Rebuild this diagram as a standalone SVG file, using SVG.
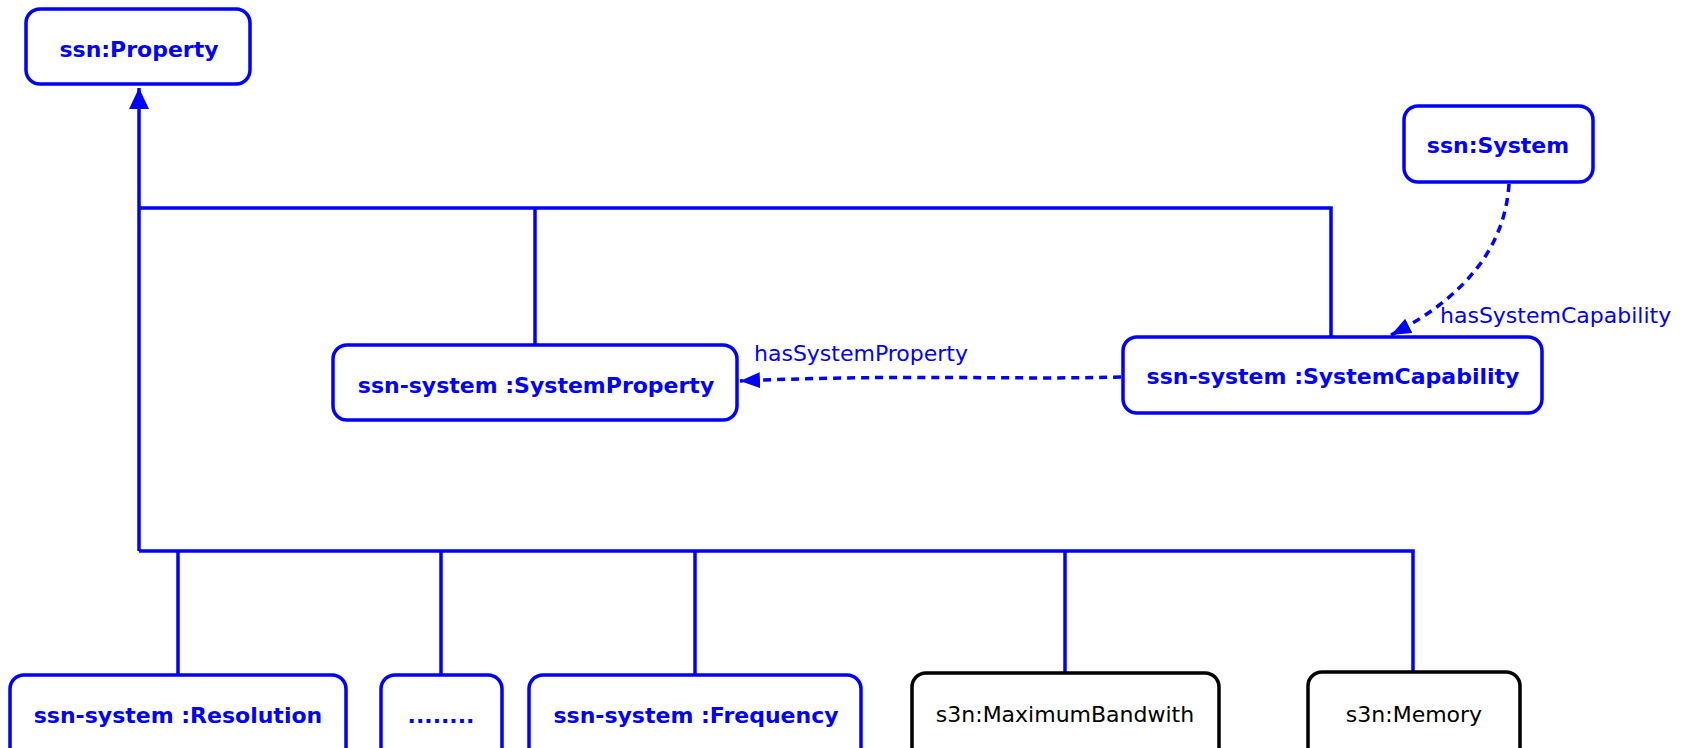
<svg xmlns="http://www.w3.org/2000/svg" width="1685" height="748" viewBox="0 0 1685 748">
  <style>
    .box { fill: #ffffff; stroke: #0000ff; stroke-width: 3.5; }
    .box.ext { stroke: #000000; }
    .name { font-family: "DejaVu Sans", Verdana, sans-serif; font-size: 22px; font-weight: bold; fill: #0000ff; text-anchor: middle; }
    .name.ext { font-weight: normal; fill: #000000; }
    .link { fill: none; stroke: #0000ff; stroke-width: 3.5; }
    .rel { fill: none; stroke: #0000ff; stroke-width: 3.5; stroke-dasharray: 8 6; }
    .rel-label { font-family: "DejaVu Sans", Verdana, sans-serif; font-size: 22px; fill: #0000ff; }
  </style>
  <defs>
    <marker id="subclass" markerWidth="22" markerHeight="24" refX="21" refY="10" orient="auto" markerUnits="userSpaceOnUse">
      <path d="M0,0 L21,10 L0,20 Z" fill="#0000ff"/>
    </marker>
    <marker id="prop" markerWidth="22" markerHeight="18" refX="20" refY="8" orient="auto" markerUnits="userSpaceOnUse">
      <path d="M0,0 L20,8 L0,16 Z" fill="#0000ff"/>
    </marker>
  </defs>

  <!-- connectors -->
  <g id="connectors">
    <!-- subclass hierarchy -->
    <path class="link" d="M139,551 V88" marker-end="url(#subclass)"/>
    <path class="link" d="M139,208 H1331 V337"/>
    <path class="link" d="M535,208 V345"/>
    <path class="link" d="M139,551 H1413 V672"/>
    <path class="link" d="M178,551 V675"/>
    <path class="link" d="M441,551 V675"/>
    <path class="link" d="M695,551 V675"/>
    <path class="link" d="M1065,551 V673"/>
    <!-- object properties -->
    <path class="rel" d="M1509,184 Q1503,278 1391,335" marker-end="url(#prop)"/>
    <text class="rel-label" x="1440" y="323">hasSystemCapability</text>
    <path class="rel" d="M1121,377 C1010,380 900,374 740,381" marker-end="url(#prop)"/>
    <text class="rel-label" x="754" y="361">hasSystemProperty</text>
  </g>

  <g id="ssn-Property">
    <rect class="box" x="26" y="9" width="224" height="75" rx="14"/>
    <text class="name" x="139" y="57">ssn:Property</text>
  </g>

  <g id="ssn-System">
    <rect class="box" x="1404" y="106" width="189" height="76" rx="14"/>
    <text class="name" x="1498" y="153">ssn:System</text>
  </g>

  <g id="SystemProperty">
    <rect class="box" x="333" y="345" width="404" height="75" rx="14"/>
    <text class="name" x="536" y="393">ssn-system :SystemProperty</text>
  </g>

  <g id="SystemCapability">
    <rect class="box" x="1123" y="337" width="419" height="76" rx="14"/>
    <text class="name" x="1333" y="384">ssn-system :SystemCapability</text>
  </g>

  <g id="Resolution">
    <rect class="box" x="10" y="675" width="336" height="90" rx="14"/>
    <text class="name" x="178" y="723">ssn-system :Resolution</text>
  </g>

  <g id="more">
    <rect class="box" x="381" y="675" width="121" height="90" rx="14"/>
    <text class="name" x="441" y="723">........</text>
  </g>

  <g id="Frequency">
    <rect class="box" x="529" y="675" width="332" height="90" rx="14"/>
    <text class="name" x="696" y="723">ssn-system :Frequency</text>
  </g>

  <g id="MaximumBandwith">
    <rect class="box ext" x="912" y="673" width="307" height="90" rx="14"/>
    <text class="name ext" x="1065" y="722">s3n:MaximumBandwith</text>
  </g>

  <g id="Memory">
    <rect class="box ext" x="1308" y="672" width="212" height="90" rx="14"/>
    <text class="name ext" x="1414" y="722">s3n:Memory</text>
  </g>
</svg>
